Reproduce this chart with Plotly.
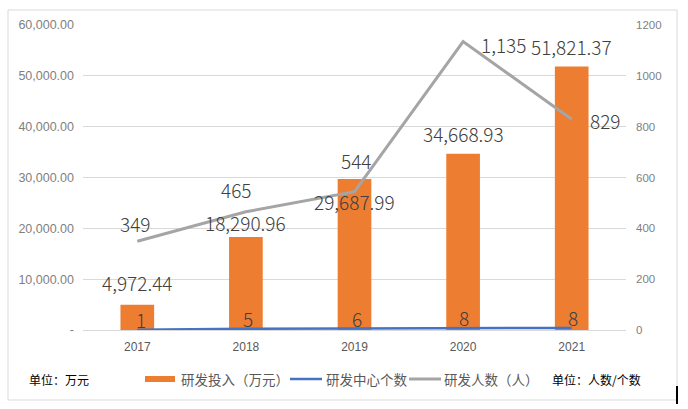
import plotly.graph_objects as go

years = ["2017", "2018", "2019", "2020", "2021"]
invest = [4972.44, 18290.96, 29687.99, 34668.93, 51821.37]
centers = [1, 5, 6, 8, 8]
people = [349, 465, 544, 1135, 829]

left_ticks = [0, 10000, 20000, 30000, 40000, 50000, 60000]
left_text = ["-", "10,000.00", "20,000.00", "30,000.00", "40,000.00", "50,000.00", "60,000.00"]
right_ticks = [0, 200, 400, 600, 800, 1000, 1200]

names = ["研发投入（万元）", "研发中心个数", "研发人数（人）"]
unit_left = "单位：万元"
unit_right = "单位：人数/个数"

# label placement offsets (pixels) -- styling, not data
bar_lbl_dy = [22, 15, -22, 20, 20]
ctr_lbl = [(4, 10), (2, 10), (2, 10), (1, 10), (1, 10)]
ppl_lbl = [("center", -2, 18), ("center", -9, 22), ("center", 2, 31), ("left", 16, -3), ("left", 16, -1)]

FONT = "Noto Sans CJK SC, Liberation Sans, sans-serif"
TICKF = "Liberation Sans, Arial, sans-serif"
LBL = dict(family=FONT, size=19, color="#404040", weight=300)
ORANGE, BLUE, GRAY = "#ED7D31", "#4472C4", "#A5A5A5"

fig = go.Figure()
fig.add_trace(go.Bar(
    x=years, y=invest, name=names[0],
    marker=dict(color=ORANGE, line=dict(width=0)), width=0.31,
))
fig.add_trace(go.Scatter(
    x=years, y=centers, name=names[1], yaxis="y2", mode="lines",
    line=dict(color=BLUE, width=2.5), cliponaxis=False,
))
fig.add_trace(go.Scatter(
    x=years, y=people, name=names[2], yaxis="y2", mode="lines",
    line=dict(color=GRAY, width=3), cliponaxis=False,
))

W, H = 688, 409
ml, mr, mt, mb = 83, 62, 25, 79
pw, ph = W - ml - mr, H - mt - mb

def px(x):
    return (x - ml) / pw

def py(y):
    return (H - mb - y) / ph

anns = []
# category axes take the category index for annotation positions
for i, (v, dy) in enumerate(zip(invest, bar_lbl_dy)):
    anns.append(dict(x=i, y=v, xref="x", yref="y", text=f"{v:,.2f}", showarrow=False,
                     xanchor="center", yanchor="middle", yshift=dy, font=LBL))
for i, (v, (dx, dy)) in enumerate(zip(centers, ctr_lbl)):
    anns.append(dict(x=i, y=v, xref="x", yref="y2", text=str(v), showarrow=False,
                     xanchor="center", yanchor="middle", xshift=dx, yshift=dy, font=LBL))
for i, (v, (anc, dx, dy)) in enumerate(zip(people, ppl_lbl)):
    anns.append(dict(x=i, y=v, xref="x", yref="y2", text=f"{v:,}", showarrow=False,
                     xanchor=anc, yanchor="middle", xshift=dx, yshift=dy, font=LBL))

LEG_Y = 379
LEGF = dict(size=13.5, color="#595959", family=FONT)
anns += [
    dict(text=unit_left, xref="paper", yref="paper", x=px(27), y=py(LEG_Y),
         xanchor="left", yanchor="middle", showarrow=False,
         font=dict(size=12, color="#000000", family=FONT)),
    dict(text=unit_right, xref="paper", yref="paper", x=px(550), y=py(LEG_Y),
         xanchor="left", yanchor="middle", showarrow=False,
         font=dict(size=12, color="#000000", family=FONT)),
    dict(text=names[0], xref="paper", yref="paper", x=px(179), y=py(LEG_Y),
         xanchor="left", yanchor="middle", showarrow=False, font=LEGF),
    dict(text=names[1], xref="paper", yref="paper", x=px(324), y=py(LEG_Y),
         xanchor="left", yanchor="middle", showarrow=False, font=LEGF),
    dict(text=names[2], xref="paper", yref="paper", x=px(442), y=py(LEG_Y),
         xanchor="left", yanchor="middle", showarrow=False, font=LEGF),
]

shapes = [
    dict(type="rect", xref="paper", yref="paper", x0=px(8), x1=px(677), y0=py(400), y1=py(10),
         line=dict(color="#d9d9d9", width=1), layer="below"),
    dict(type="rect", xref="paper", yref="paper", x0=px(145), x1=px(175), y0=py(382), y1=py(376),
         line=dict(width=0), fillcolor=ORANGE),
    dict(type="line", xref="paper", yref="paper", x0=px(290), x1=px(322), y0=py(LEG_Y), y1=py(LEG_Y),
         line=dict(color=BLUE, width=2.5)),
    dict(type="line", xref="paper", yref="paper", x0=px(409), x1=px(441), y0=py(LEG_Y), y1=py(LEG_Y),
         line=dict(color=GRAY, width=3)),
    dict(type="line", xref="paper", yref="paper", x0=px(677), x1=px(677), y0=py(386), y1=py(404),
         line=dict(color="#000000", width=2)),
]

fig.update_layout(
    width=W, height=H,
    margin=dict(l=ml, r=mr, t=mt, b=mb, autoexpand=False),
    paper_bgcolor="white", plot_bgcolor="white",
    font=dict(family=FONT, size=11, color="#7f7f7f"),
    showlegend=False,
    xaxis=dict(type="category", range=[-0.5, len(years) - 0.5], showgrid=False,
               showline=True, linecolor="#d9d9d9", ticks="", ticklabelstandoff=6,
               tickfont=dict(size=12, color="#595959", family=TICKF), fixedrange=True),
    yaxis=dict(range=[0, 60000], tickvals=left_ticks, ticktext=left_text,
               showgrid=True, gridcolor="#d9d9d9", gridwidth=1, zeroline=False,
               ticks="", ticklabelstandoff=8, tickfont=dict(size=12.5, color="#7f7f7f", family=TICKF)),
    yaxis2=dict(range=[0, 1200], tickvals=right_ticks, overlaying="y", side="right",
                showgrid=False, zeroline=False, ticks="", ticklabelstandoff=9,
                tickfont=dict(size=11.5, color="#7f7f7f", family=TICKF)),
    shapes=shapes,
    annotations=anns,
)
fig.write_html("out.html")
